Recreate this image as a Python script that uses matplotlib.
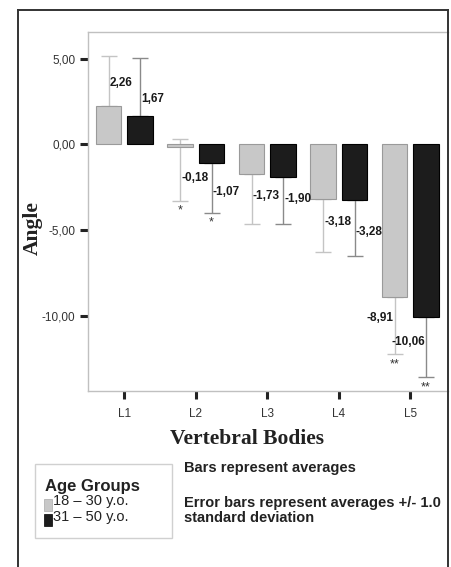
import numpy as np
import matplotlib
matplotlib.use('Agg')
import matplotlib.pyplot as plt
from matplotlib.lines import Line2D
from matplotlib.patches import Rectangle

# Data
vertebrae = ['L1', 'L2', 'L3', 'L4', 'L5']
young_mean = [2.26, -0.18, -1.73, -3.18, -8.91]
older_mean = [1.67, -1.07, -1.90, -3.28, -10.06]
# visible error bar extents (below / above the mean)
young_err_low = [0.0, 3.13, 2.93, 3.13, 3.36]
young_err_high = [2.90, 0.49, 0.0, 0.0, 0.0]
older_err_low = [0.0, 2.92, 2.76, 3.26, 3.55]
older_err_high = [3.35, 0.0, 0.0, 0.0, 0.0]
# significance marks under the error bars
young_sig = ['', '*', '', '', '**']
older_sig = ['', '*', '', '', '**']
yticks = [5, 0, -5, -10]
group_names = ['18 \u2013 30 y.o.', '31 \u2013 50 y.o.']

# label placement (points) -- tweaked to match the original
young_dy = [16, -22, -16, -17, -15]
older_dy = [12, -21, -16, -23, -18]

W, H = 451, 567
fig = plt.figure(figsize=(W / 100, H / 100), dpi=100)
sans = 'Liberation Sans'
serif = 'Liberation Serif'


def fx(px):
    return px / W


def fy(py):
    return 1 - py / H


ax = fig.add_axes([fx(88), fy(391), fx(447.5) - fx(88), fy(32) - fy(391)])

x = np.arange(len(vertebrae))
off, bw = 0.22, 0.36
light, dark = '#c8c8c8', '#1c1c1c'

ax.errorbar(x - off, young_mean, yerr=[young_err_low, young_err_high], fmt='none',
            ecolor='#c4c4c4', elinewidth=1, capsize=6, capthick=1, zorder=1)
ax.errorbar(x + off, older_mean, yerr=[older_err_low, older_err_high], fmt='none',
            ecolor='#8a8a8a', elinewidth=1, capsize=6, capthick=1, zorder=1)
ax.bar(x - off, young_mean, bw, color=light, edgecolor='#9a9a9a', linewidth=0.8, zorder=2)
ax.bar(x + off, older_mean, bw, color=dark, edgecolor='#000000', linewidth=0.8, zorder=2)

# value labels and significance stars
for xs, means, dys, lows, sigs in [(x - off, young_mean, young_dy, young_err_low, young_sig),
                                   (x + off, older_mean, older_dy, older_err_low, older_sig)]:
    for i in range(len(xs)):
        ha = 'right' if i == 4 else 'left'
        dx = -1 if i == 4 else 1
        ax.annotate(f'{means[i]:.2f}'.replace('.', ','), (xs[i], means[i]),
                    xytext=(dx, dys[i]), textcoords='offset points', ha=ha, va='center',
                    fontsize=8.5, fontweight='bold', family=sans, color='#1a1a1a', zorder=3)
        if sigs[i]:
            ax.annotate(sigs[i], (xs[i], means[i] - lows[i]), xytext=(0, -7),
                        textcoords='offset points', ha='center', va='center',
                        fontsize=9, family=sans, color='#333333')

ax.set_xlim(-0.507, 4.52)
ax.set_ylim(-14.41, 6.56)
ax.set_xticks(x)
ax.set_xticklabels(vertebrae, family=sans, fontsize=8.5, color='#333333')
ax.set_yticks(yticks)
ax.set_yticklabels([f'{v:.2f}'.replace('.', ',') for v in yticks], family=sans,
                   fontsize=8.5, color='#333333')
ax.tick_params(length=6, width=2.2, color='#222222', pad=3)
ax.tick_params(axis='x', pad=6)
for side in ['left', 'top', 'bottom']:
    ax.spines[side].set_color('#c0c0c0')
    ax.spines[side].set_linewidth(1)
ax.spines['right'].set_visible(False)

fig.text(fx(33), fy(228), 'Angle', rotation=90, ha='center', va='center',
         family=serif, fontweight='bold', fontsize=15.5, color='#222222')
fig.text(fx(247), fy(439), 'Vertebral Bodies', ha='center', va='center',
         family=serif, fontweight='bold', fontsize=15.5, color='#222222')

# legend box
fig.add_artist(Rectangle((fx(35), fy(538)), fx(172) - fx(35), fy(464) - fy(538),
                         transform=fig.transFigure, facecolor='white',
                         edgecolor='#d0d0d0', linewidth=1))
fig.text(fx(45), fy(486), 'Age Groups', ha='left', va='center', family=sans,
         fontweight='bold', fontsize=12, color='#222222')
for k, (name, col, ec) in enumerate(zip(group_names, [light, dark], ['#aaaaaa', '#000000'])):
    ytxt = 501.5 + k * 15
    fig.add_artist(Rectangle((fx(43.5), fy(ytxt + 9)), fx(8), fy(0) - fy(12),
                             transform=fig.transFigure, facecolor=col,
                             edgecolor=ec, linewidth=0.5))
    fig.text(fx(53), fy(ytxt), name, ha='left', va='center', family=sans,
             fontsize=10.5, color='#222222')

fig.text(fx(184), fy(468), 'Bars represent averages', ha='left', va='center',
         family=sans, fontweight='bold', fontsize=10.5, color='#222222')
fig.text(fx(184), fy(503), 'Error bars represent averages +/- 1.0', ha='left',
         va='center', family=sans, fontweight='bold', fontsize=10.5, color='#222222')
fig.text(fx(184), fy(517.5), 'standard deviation', ha='left', va='center',
         family=sans, fontweight='bold', fontsize=10.5, color='#222222')

# outer frame (open at the bottom)
for xs_, ys_ in [([18, 18], [10, 567]), ([18, 447.5], [10, 10]), ([447.5, 447.5], [10, 567])]:
    fig.add_artist(Line2D([fx(v) for v in xs_], [fy(v) for v in ys_],
                          transform=fig.transFigure, color='#333333', linewidth=1.4))

fig.savefig('out.png', dpi=100)
